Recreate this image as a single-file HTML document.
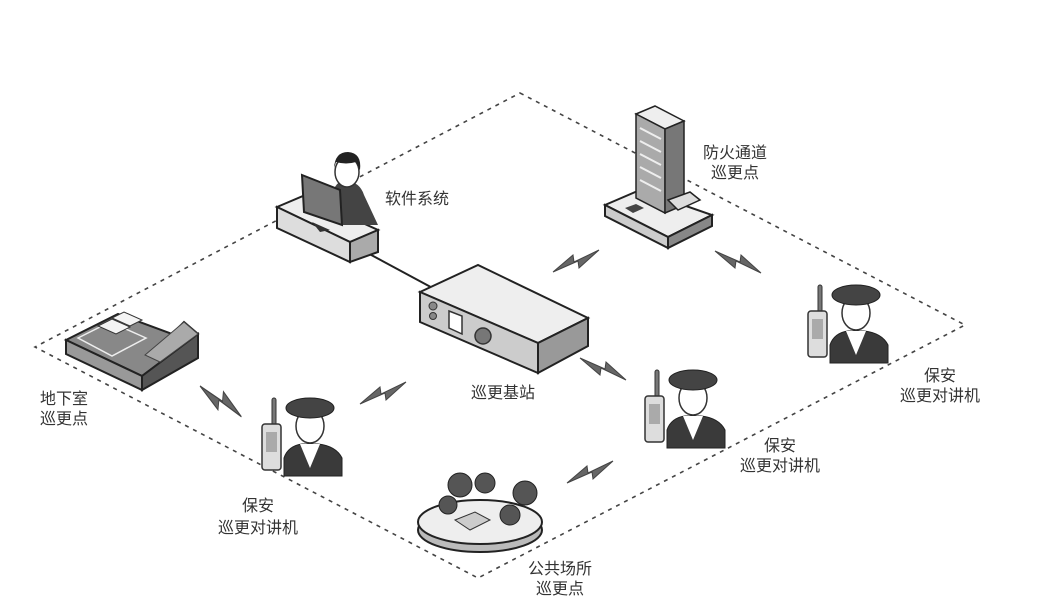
<!DOCTYPE html>
<html><head><meta charset="utf-8"><style>
html,body{margin:0;padding:0;background:#fff;}
svg{display:block;}
text{font-family:"Liberation Sans","Noto Sans CJK SC",sans-serif;font-size:16px;fill:#333;}
</style></head><body>
<svg width="1043" height="616" viewBox="0 0 1043 616" xmlns="http://www.w3.org/2000/svg">
<defs>
<g id="bolt"><polygon points="0,22 20,5 21,12 46,0 26,18 25,11" fill="#666" stroke="#444" stroke-width="1"/></g>
<g id="guard">
  <rect x="10" y="0" width="4" height="28" rx="2" fill="#777" stroke="#333" stroke-width="1"/>
  <rect x="0" y="26" width="19" height="46" rx="3" fill="#ddd" stroke="#333" stroke-width="1.5"/>
  <rect x="4" y="34" width="11" height="20" fill="#aaa"/>
  <path d="M22,78 L22,60 Q26,48 40,46 L56,46 Q74,48 80,60 L80,78 Z" fill="#3a3a3a" stroke="#222"/>
  <path d="M38,46 L48,70 L58,46 Z" fill="#fff"/>
  <ellipse cx="48" cy="28" rx="14" ry="17" fill="#fff" stroke="#333" stroke-width="1.5"/>
  <ellipse cx="48" cy="10" rx="24" ry="10" fill="#444" stroke="#222"/>
</g>
</defs>
<polygon points="520,93 965,325 478,578 35,347" fill="none" stroke="#444" stroke-width="1.6" stroke-dasharray="4,5"/>
<line x1="362" y1="250" x2="440" y2="292" stroke="#222" stroke-width="2"/>
<!-- desk -->
<polygon points="277,207 303,196 378,230 350,242" fill="#eee" stroke="#222" stroke-width="2"/>
<polygon points="277,207 350,242 350,262 277,228" fill="#ddd" stroke="#222" stroke-width="2"/>
<polygon points="350,242 378,230 378,252 350,262" fill="#aaa" stroke="#222" stroke-width="2"/>
<path d="M330,205 Q332,182 345,180 Q360,182 364,195 L378,225 L340,225 Z" fill="#444"/>
<ellipse cx="347" cy="172" rx="12" ry="15" fill="#fff" stroke="#333" stroke-width="1.5"/>
<path d="M334,168 Q335,152 348,152 Q362,153 360,170 L356,162 Q346,165 336,162 Z" fill="#222"/>
<polygon points="302,175 340,190 342,225 304,212" fill="#777" stroke="#222" stroke-width="2"/>
<polygon points="312,222 330,230 320,232" fill="#333"/>
<text x="385" y="204">软件系统</text>
<!-- base station -->
<polygon points="420,292 478,265 588,318 538,343" fill="#eee" stroke="#222" stroke-width="2"/>
<polygon points="420,292 538,343 538,373 420,322" fill="#ccc" stroke="#222" stroke-width="2"/>
<polygon points="538,343 588,318 588,346 538,373" fill="#999" stroke="#222" stroke-width="2"/>
<circle cx="433" cy="306" r="4" fill="#888" stroke="#333"/>
<circle cx="433" cy="316" r="3.5" fill="#888" stroke="#333"/>
<polygon points="449,311 462,316 462,334 449,328" fill="#fff" stroke="#333" stroke-width="1.5"/>
<circle cx="483" cy="336" r="8" fill="#777" stroke="#333" stroke-width="1.5"/>
<text x="503" y="398" text-anchor="middle">巡更基站</text>
<!-- building -->
<polygon points="605,205 640,190 712,215 668,237" fill="#eee" stroke="#222" stroke-width="2"/>
<polygon points="605,205 668,237 668,248 605,216" fill="#ccc" stroke="#222" stroke-width="2"/>
<polygon points="668,237 712,215 712,226 668,248" fill="#888" stroke="#222" stroke-width="2"/>
<polygon points="636,114 655,106 684,121 665,129" fill="#eee" stroke="#222" stroke-width="1.5"/>
<polygon points="636,114 665,129 665,213 636,198" fill="#aaa" stroke="#222" stroke-width="1.5"/>
<polygon points="665,129 684,121 684,205 665,213" fill="#777" stroke="#222" stroke-width="1.5"/>
<g stroke="#eee" stroke-width="2"><line x1="640" y1="128" x2="661" y2="139"/><line x1="640" y1="141" x2="661" y2="152"/><line x1="640" y1="154" x2="661" y2="165"/><line x1="640" y1="167" x2="661" y2="178"/><line x1="640" y1="180" x2="661" y2="191"/></g>
<polygon points="668,200 690,192 700,200 678,210" fill="#ddd" stroke="#222" stroke-width="1.5"/>
<polygon points="625,208 636,204 644,208 633,213" fill="#444"/>
<text x="735" y="158" text-anchor="middle">防火通道</text>
<text x="735" y="178" text-anchor="middle">巡更点</text>
<!-- basement -->
<polygon points="66,340 118,314 172,334 184,322 198,334 142,376" fill="#888" stroke="#222" stroke-width="2"/>
<polygon points="66,340 142,376 142,390 66,354" fill="#999" stroke="#222" stroke-width="2"/>
<polygon points="142,376 198,334 198,358 142,390" fill="#555" stroke="#222" stroke-width="2"/>
<polygon points="145,355 184,322 198,334 160,362" fill="#aaa" stroke="#444"/>
<polygon points="78,338 110,322 146,338 112,356" fill="none" stroke="#eee" stroke-width="1.5"/>
<polygon points="98,326 112,319 130,327 116,334" fill="#f4f4f4" stroke="#333"/>
<polygon points="112,318 124,312 142,320 130,326" fill="#f4f4f4" stroke="#333"/>
<text x="40" y="404">地下室</text>
<text x="40" y="424">巡更点</text>
<!-- park -->
<ellipse cx="480" cy="530" rx="62" ry="22" fill="#bbb" stroke="#222" stroke-width="2"/>
<ellipse cx="480" cy="522" rx="62" ry="22" fill="#eee" stroke="#222" stroke-width="2"/>
<g fill="#555" stroke="#222">
<circle cx="460" cy="485" r="12"/><circle cx="485" cy="483" r="10"/><circle cx="525" cy="493" r="12"/><circle cx="510" cy="515" r="10"/><circle cx="448" cy="505" r="9"/></g>
<polygon points="455,520 475,512 490,520 470,530" fill="#ccc" stroke="#333"/>
<text x="560" y="574" text-anchor="middle">公共场所</text>
<text x="560" y="594" text-anchor="middle">巡更点</text>
<!-- guards -->
<use href="#guard" transform="translate(262,398)"/>
<use href="#guard" transform="translate(645,370)"/>
<use href="#guard" transform="translate(808,285)"/>
<text x="258" y="511" text-anchor="middle">保安</text>
<text x="258" y="533" text-anchor="middle">巡更对讲机</text>
<text x="780" y="451" text-anchor="middle">保安</text>
<text x="780" y="471" text-anchor="middle">巡更对讲机</text>
<text x="940" y="381" text-anchor="middle">保安</text>
<text x="940" y="401" text-anchor="middle">巡更对讲机</text>
<!-- bolts -->
<use href="#bolt" transform="translate(553,250)"/>
<use href="#bolt" transform="translate(715,273) scale(1,-1)"/>
<use href="#bolt" transform="translate(580,380) scale(1,-1)"/>
<use href="#bolt" transform="translate(360,382)"/>
<use href="#bolt" transform="translate(200,386) scale(0.9,-1.4) translate(0,-22)"/>
<use href="#bolt" transform="translate(567,461)"/>
</svg>
</body></html>
